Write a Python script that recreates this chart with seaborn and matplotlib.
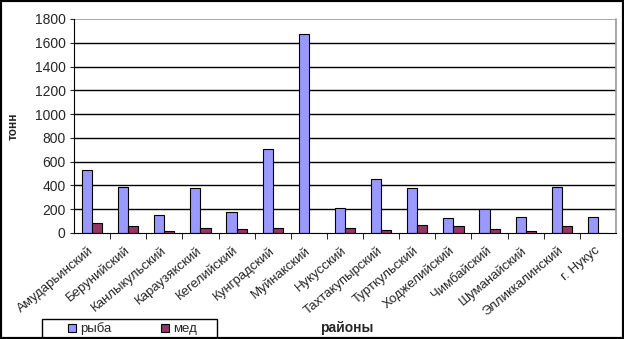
import numpy as np
import pandas as pd
import seaborn as sns
import matplotlib.pyplot as plt
import matplotlib.transforms as mtransforms
from matplotlib.patches import Rectangle

districts = ['Амударьинский', 'Берунийский', 'Канлыкульский', 'Караузякский',
             'Кегелийский', 'Кунградский', 'Муйнакский', 'Нукусский',
             'Тахтакупырский', 'Турткульский', 'Ходжелийский', 'Чимбайский',
             'Шуманайский', 'Элликкалинский', 'г. Нукус']
fish = [532, 386, 151, 375, 179, 703, 1672, 210, 451, 378, 129, 204, 137, 386, 137]
honey = [84, 59, 19, 39, 34, 42, 0, 42, 25, 67, 59, 34, 19, 61, 0]
series_names = ['рыба', 'мед']

df = pd.DataFrame({
    'район': districts * 2,
    'тонн': fish + honey,
    'вид': [series_names[0]] * len(districts) + [series_names[1]] * len(districts),
})

sns.set_style('white')
plt.rcParams['font.family'] = ['Liberation Sans', 'DejaVu Sans']

fig = plt.figure(figsize=(6.24, 3.39), dpi=100)
ax = fig.add_axes([74 / 624, 1 - 233 / 339, 542 / 624, 214 / 339])

sns.barplot(data=df, x='район', y='тонн', hue='вид',
            palette=['#9999FF', '#993366'], width=0.56, gap=0,
            edgecolor='black', linewidth=0.8, saturation=1, ax=ax)

ax.set_ylim(0, 1800)
ax.set_xlim(-0.5, len(districts) - 0.5)
ax.set_yticks(np.arange(0, 1801, 200))
ax.tick_params(axis='y', labelsize=10, length=3, direction='out', left=True, pad=3)
for y in range(200, 1800, 200):
    ax.axhline(y, color='black', linewidth=1, zorder=0)
ax.axhline(1800, color='#999999', linewidth=1.2, zorder=0)

ax.set_xticks(range(len(districts)))
ax.set_xticklabels(districts, rotation=40, ha='right', rotation_mode='anchor', fontsize=9.5)
ax.tick_params(axis='x', which='major', length=0, pad=8)
shift = mtransforms.ScaledTranslation(-4 / 100, 0, fig.dpi_scale_trans)
for lab in ax.get_xticklabels():
    lab.set_transform(lab.get_transform() + shift)
ax.set_xticks(np.arange(0.5, len(districts) - 0.5, 1), minor=True)
ax.tick_params(axis='x', which='minor', length=4, bottom=True, direction='out', color='black')

for side in ['top', 'right']:
    ax.spines[side].set_visible(False)
ax.spines['left'].set_color('black')
ax.spines['bottom'].set_color('black')
ax.plot([1, 1], [0, 1], transform=ax.transAxes, color='#999999', linewidth=1.2, clip_on=False)

ax.set_xlabel('')
ax.set_ylabel('')
fig.text(14 / 624, 1 - 126 / 339, 'тонн', rotation=90, ha='center', va='center',
         fontsize=8.5, fontweight='bold')
fig.text(320 / 624, 1 - 328 / 339, 'районы', ha='left', va='center',
         fontsize=10, fontweight='bold')

ax.get_legend().remove()
handles, labels = ax.get_legend_handles_labels()
leg = fig.legend(handles, labels, loc='center left', bbox_to_anchor=(68 / 624, 1 - 329 / 339),
                 ncol=2, fontsize=9.5, frameon=False,
                 handlelength=0.6, handleheight=0.6, columnspacing=3.8,
                 borderpad=0, handletextpad=0.3, borderaxespad=0)
fig.patches.append(Rectangle((42 / 624, -0.05), 175 / 624, 0.05 + 20 / 339,
                             transform=fig.transFigure, fill=False,
                             edgecolor='black', linewidth=1))

fig.patches.append(Rectangle((0, 0), 1, 1, transform=fig.transFigure, fill=False,
                             edgecolor='black', linewidth=3))

fig.savefig('out.png', dpi=100)
